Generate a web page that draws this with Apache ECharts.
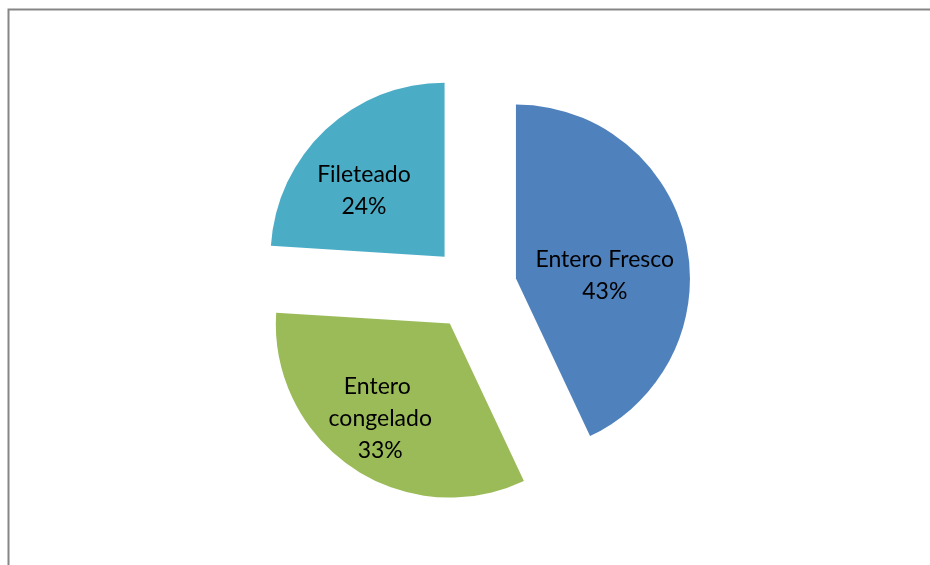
<!DOCTYPE html>
<html>
<head>
<meta charset="utf-8">
<script src="https://cdn.jsdelivr.net/npm/echarts@6/dist/echarts.min.js"></script>
<style>
  html, body { margin: 0; padding: 0; background: #ffffff; }
  #chart { width: 930px; height: 565px; }
</style>
</head>
<body>
<div id="chart"></div>
<script>
// Product forms and their shares (%)
const categories = ['Entero Fresco', 'Entero congelado', 'Fileteado'];
const shares = [43, 33, 24];
const colors = ['#4F81BD', '#9BBB59', '#4BACC6'];

// Small nudges for the in-slice labels, and wrap widths
const labelNudge = [[1, 17], [-19, 21], [-19, 0]];
const labelWidth = [220, 130, 220];

const chart = echarts.init(document.getElementById('chart'), null, { renderer: 'canvas' });

const seriesData = categories.map((name, i) => ({
  name: name,
  value: shares[i],
  selected: true,
  itemStyle: { color: colors[i] },
  label: { width: labelWidth[i] }
}));

chart.setOption({
  animation: false,
  backgroundColor: '#ffffff',
  graphic: [{
    type: 'rect',
    left: 6, top: 7,
    shape: { x: 0, y: 0, width: 940, height: 580 },
    style: { fill: 'none', stroke: '#868686', lineWidth: 2 },
    silent: true
  }],
  series: [{
    type: 'pie',
    center: [474, 288],
    radius: 174,
    startAngle: 90,
    clockwise: true,
    selectedMode: 'multiple',
    selectedOffset: 43,
    emphasis: { disabled: true },
    label: {
      show: true,
      position: 'inner',
      formatter: '{b}\n{d}%',
      color: '#000000',
      fontFamily: 'Lato',
      fontSize: 23,
      lineHeight: 32,
      align: 'center',
      overflow: 'break'
    },
    labelLine: { show: false },
    labelLayout: function (params) {
      const n = labelNudge[params.dataIndex];
      return { dx: n[0], dy: n[1] };
    },
    data: seriesData
  }]
});
</script>
</body>
</html>
